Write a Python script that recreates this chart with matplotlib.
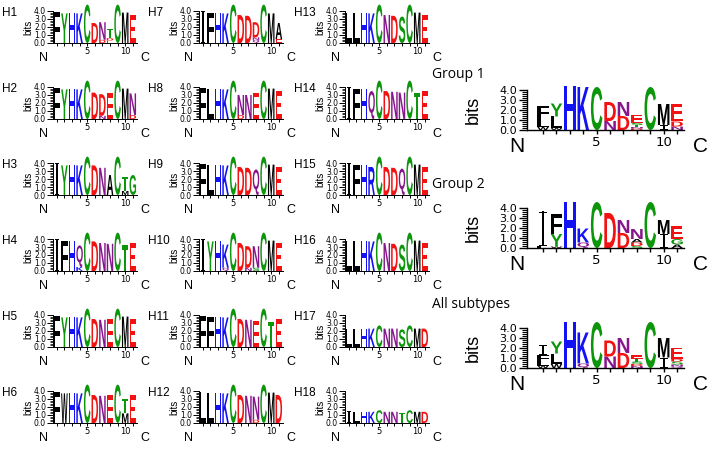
import matplotlib
matplotlib.use('Agg')
import matplotlib.pyplot as plt
from matplotlib.textpath import TextPath
from matplotlib.patches import PathPatch, Rectangle
from matplotlib.font_manager import FontProperties
from matplotlib.transforms import Affine2D

# ---------------- data: stacks bottom -> top, (letter, bits) ----------------
H1 = [[('F', 3.9)], [('Y', 3.7)], [('H', 3.7)], [('K', 3.7)], [('C', 4.8)], [('D', 2.5)],
      [('D', 0.4), ('N', 2.2)], [('E', 0.3), ('D', 0.3), ('T', 1.2)], [('C', 4.8)], [('M', 3.8)], [('E', 3.5)]]
H2 = [[('F', 3.9)], [('Y', 3.7)], [('H', 3.7)], [('K', 3.7)], [('C', 4.8)], [('D', 3.3)],
      [('N', 0.4), ('D', 2.7)], [('E', 3.2)], [('C', 4.8)], [('M', 3.8)], [('D', 0.5), ('N', 2.7)]]
H3 = [[('I', 4.0)], [('Y', 3.7)], [('H', 3.7)], [('K', 3.7)], [('C', 4.8)], [('D', 3.7)],
      [('N', 3.4)], [('A', 2.5)], [('C', 4.8)], [('M', 0.5), ('T', 1.8)], [('G', 2.5)]]
H4 = [[('I', 4.0)], [('F', 3.7)], [('H', 3.7)], [('K', 0.5), ('Q', 2.7)], [('C', 4.8)], [('D', 3.7)],
      [('N', 3.5)], [('N', 3.4)], [('C', 4.8)], [('T', 3.2)], [('E', 3.5)]]
H5 = [[('F', 3.9)], [('Y', 3.7)], [('H', 3.7)], [('K', 3.7)], [('C', 4.8)], [('D', 3.5)],
      [('N', 3.4)], [('E', 3.5)], [('C', 4.8)], [('M', 3.8)], [('E', 3.5)]]
H6 = [[('F', 3.9)], [('W', 3.7)], [('H', 3.7)], [('K', 3.7)], [('C', 4.8)], [('D', 3.5)],
      [('N', 3.4)], [('E', 3.5)], [('C', 4.8)], [('M', 1.2), ('T', 1.8)], [('E', 3.5)]]
H7 = [[('I', 4.0)], [('F', 3.7)], [('H', 3.7)], [('K', 3.7)], [('C', 4.8)], [('D', 3.5)],
      [('D', 3.4)], [('Q', 0.4), ('N', 0.3), ('D', 1.9)], [('C', 4.8)], [('M', 3.7)], [('E', 0.5), ('A', 2.0)]]
H8 = [[('F', 3.9)], [('L', 3.7)], [('H', 3.7)], [('K', 3.7)], [('C', 4.8)], [('D', 0.5), ('N', 2.5)],
      [('N', 3.0)], [('E', 3.3)], [('C', 4.8)], [('M', 3.8)], [('E', 3.5)]]
H9 = [[('F', 3.9)], [('L', 3.7)], [('H', 3.7)], [('K', 3.7)], [('C', 4.8)], [('D', 3.5)],
      [('D', 3.4)], [('Q', 3.2)], [('C', 4.8)], [('M', 3.8)], [('E', 3.5)]]
H10 = [[('I', 4.0)], [('Y', 3.7)], [('H', 3.7)], [('Q', 0.4), ('K', 2.9)], [('C', 4.8)], [('D', 3.5)],
       [('N', 0.4), ('D', 2.7)], [('S', 0.4), ('N', 2.7)], [('C', 4.8)], [('M', 3.8)], [('E', 3.5)]]
H11 = [[('F', 3.9)], [('F', 3.7)], [('H', 3.7)], [('K', 3.7)], [('C', 4.8)], [('D', 3.5)],
       [('N', 3.4)], [('E', 3.3)], [('C', 4.8)], [('T', 3.1)], [('E', 3.5)]]
H12 = [[('L', 3.9)], [('L', 3.7)], [('H', 3.7)], [('K', 3.7)], [('C', 4.8)], [('D', 3.5)],
       [('N', 3.4)], [('D', 0.4), ('N', 2.9)], [('C', 4.8)], [('M', 3.8)], [('D', 3.5)]]
H13 = [[('L', 3.7)], [('L', 3.7)], [('H', 3.7)], [('K', 3.7)], [('C', 4.8)], [('N', 3.5)],
       [('D', 3.4)], [('S', 3.3)], [('C', 4.8)], [('M', 3.8)], [('E', 3.5)]]
H14 = [[('I', 4.0)], [('F', 3.7)], [('H', 3.7)], [('Q', 3.5)], [('C', 4.8)], [('D', 3.5)],
       [('N', 3.4)], [('N', 3.3)], [('C', 4.8)], [('T', 3.3)], [('E', 3.5)]]
H15 = [[('I', 4.0)], [('F', 3.7)], [('H', 3.7)], [('R', 3.5)], [('C', 4.8)], [('D', 3.5)],
       [('D', 3.4)], [('Q', 3.3)], [('C', 4.8)], [('M', 3.8)], [('E', 3.5)]]
H16 = [[('L', 3.7)], [('L', 3.7)], [('H', 3.7)], [('K', 3.7)], [('C', 4.8)], [('N', 3.5)],
       [('D', 3.4)], [('S', 3.3)], [('C', 4.8)], [('M', 3.8)], [('E', 3.5)]]
H17 = [[('L', 2.3)], [('L', 2.3)], [('H', 2.3)], [('K', 2.3)], [('C', 2.7)], [('N', 2.3)],
       [('N', 2.3)], [('S', 2.2)], [('C', 2.7)], [('M', 2.3)], [('D', 2.3)]]
H18 = [[('I', 1.5)], [('L', 1.4)], [('H', 1.4)], [('K', 1.4)], [('C', 1.6)], [('N', 1.4)],
       [('N', 1.4)], [('T', 1.3)], [('C', 1.6)], [('M', 1.4)], [('D', 1.4)]]

GROUP1 = [[('W', 0.3), ('L', 0.8), ('F', 1.3)], [('W', 0.2), ('L', 1.15), ('Y', 1.3)], [('H', 4.4)],
          [('K', 4.3)], [('C', 4.3)], [('N', 0.9), ('D', 1.9)], [('D', 1.4), ('N', 1.4)],
          [('D', 0.15), ('N', 0.15), ('T', 0.2), ('S', 0.2), ('E', 0.8)], [('C', 4.3)],
          [('I', 0.5), ('M', 2.1)], [('N', 0.35), ('D', 0.5), ('E', 1.75)]]
GROUP2 = [[('L', 0.15), ('I', 3.5)], [('W', 0.15), ('Y', 1.25), ('F', 1.95)], [('H', 4.6)],
          [('Q', 0.55), ('K', 1.4)], [('C', 4.6)], [('D', 3.5)], [('D', 1.5), ('N', 1.3)],
          [('S', 0.2), ('D', 0.35), ('A', 0.35), ('N', 1.0)], [('C', 4.6)], [('I', 1.4), ('M', 1.4)],
          [('A', 0.35), ('G', 0.55), ('E', 1.25)]]
ALL = [[('W', 0.25), ('L', 0.35), ('F', 0.7), ('I', 1.05)], [('W', 0.4), ('L', 1.05), ('Y', 1.2)],
       [('H', 4.6)], [('Q', 0.45), ('K', 3.1)], [('C', 4.6)], [('N', 1.15), ('D', 1.6)],
       [('D', 1.5), ('N', 1.5)], [('N', 0.2), ('D', 0.2), ('S', 0.25), ('T', 0.3), ('E', 0.35)],
       [('C', 4.6)], [('I', 1.05), ('M', 1.95)], [('Q', 0.15), ('N', 0.2), ('S', 0.3), ('D', 0.25), ('E', 1.15)]]

small_names = ['H1', 'H2', 'H3', 'H4', 'H5', 'H6', 'H7', 'H8', 'H9', 'H10', 'H11', 'H12',
               'H13', 'H14', 'H15', 'H16', 'H17', 'H18']
small_logos = [H1, H2, H3, H4, H5, H6, H7, H8, H9, H10, H11, H12, H13, H14, H15, H16, H17, H18]
group_names = ['Group 1', 'Group 2', 'All subtypes']
group_logos = [GROUP1, GROUP2, ALL]
ytick_labels = ['0.0', '1.0', '2.0', '3.0', '4.0']

# ---------------- style ----------------
COL = {}
for c in 'AVLIPWFM':
    COL[c] = '#000000'
for c in 'GSTYC':
    COL[c] = '#0c960c'
for c in 'NQ':
    COL[c] = '#86168c'
for c in 'KRH':
    COL[c] = '#1212f2'
for c in 'DE':
    COL[c] = '#f21212'

FP = FontProperties(family='Liberation Sans', weight='bold')
_glyph = {}


def glyph(ch):
    if ch not in _glyph:
        _glyph[ch] = TextPath((0, 0), ch, size=1, prop=FP)
    return _glyph[ch]


def ibeam(ax, xc, y0, y1, sw, cw, capt, color):
    ax.add_patch(Rectangle((xc - sw / 2, y0), sw, y1 - y0, facecolor=color, lw=0))
    ax.add_patch(Rectangle((xc - cw / 2, y0), cw, capt, facecolor=color, lw=0))
    ax.add_patch(Rectangle((xc - cw / 2, y1 - capt), cw, capt, facecolor=color, lw=0))


def draw_letter(ax, ch, xc, y0, h, w, big):
    if ch == 'I':
        capt = min(0.12 if big else 0.15, h * 0.2)
        ibeam(ax, xc, y0, y0 + h, 0.16 if big else 0.2, 0.6, capt, COL[ch])
        return
    p = glyph(ch)
    e = p.get_extents()
    t = (Affine2D().translate(-e.x0, -e.y0)
         .scale(w / e.width, h / e.height).translate(xc - w / 2, y0))
    ax.add_patch(PathPatch(t.transform_path(p), facecolor=COL[ch], edgecolor='none', lw=0))


W, H = 709, 449
fig = plt.figure(figsize=(W / 100, H / 100), dpi=100)


def px_axes(left, top, width, height):
    return fig.add_axes([left / W, 1 - (top + height) / H, width / W, height / H])


def ftext(x, y, s, **kw):
    fig.text(x / W, 1 - y / H, s, **kw)


def draw_logo(ax, logo, xlim, ytop, big):
    for i, stack in enumerate(logo):
        y = 0
        for ch, h in stack:
            draw_letter(ax, ch, i + 1, y, h, 0.86, big)
            y += h
    ax.set_xlim(*xlim)
    ax.set_ylim(0, ytop)
    for s in ['top', 'right']:
        ax.spines[s].set_visible(False)
    ax.spines['left'].set_bounds(0, 4.0)
    lw = 1.0 if big else 0.7
    ax.spines['left'].set_linewidth(lw)
    ax.spines['bottom'].set_linewidth(lw)
    ax.set_yticks([0, 1, 2, 3, 4])
    ax.set_yticklabels(ytick_labels)
    ax.set_yticks([k * 0.2 for k in range(21)], minor=True)
    ax.set_xticks(range(1, len(logo) + 1))
    ax.set_xticklabels(['5' if k == 5 else '10' if k == 10 else '' for k in range(1, len(logo) + 1)])
    fs = 8 if big else 5.5
    ax.tick_params(axis='y', which='major', length=6 if big else 4, width=lw, labelsize=fs, pad=1)
    ax.tick_params(axis='y', which='minor', length=3.5 if big else 2.2, width=lw * 0.8)
    ax.tick_params(axis='x', which='major', length=3 if big else 2, width=lw,
                   labelsize=9.5 if big else 6, pad=1)
    ax.patch.set_alpha(0)


# small panels
col_axis_x = [53, 199, 345]
row_base_y = [43, 119, 195, 271, 347, 423]
pxu = 7.6
sbit = 8.0
for k, (name, logo) in enumerate(zip(small_names, small_logos)):
    c, r = divmod(k, 6)
    ax0 = col_axis_x[c]
    base = row_base_y[r]
    ax = px_axes(ax0, base - 5.0 * sbit, 11.1 * pxu, 5.0 * sbit)
    draw_logo(ax, logo, (0.5, 11.6), 5.0, False)
    ftext(ax0 - 51, base - 30, name, fontsize=8.5, va='center', ha='left', family='Liberation Sans')
    ftext(ax0 - 25, base - 16, 'bits', fontsize=7, va='center', ha='center', rotation=90,
          family='Liberation Sans')
    ftext(ax0 - 10, base + 15, 'N', fontsize=9, va='center', ha='center', family='Liberation Sans')
    ftext(ax0 + 11.1 * pxu + 8, base + 15, 'C', fontsize=9, va='center', ha='center',
          family='Liberation Sans')

# group panels
gx = 527
gpx = 13.4
gbit = 10.0
group_base_y = [130, 248, 368]
group_label_y = [75, 185, 305]
for name, logo, base, ly in zip(group_names, group_logos, group_base_y, group_label_y):
    ax = px_axes(gx, base - 4.7 * gbit, 11.7 * gpx, 4.7 * gbit)
    draw_logo(ax, logo, (-0.2, 11.5), 4.7, True)
    ftext(432, ly, name, fontsize=10, va='center', ha='left', family='Open Sans')
    ftext(473, base - 20, 'bits', fontsize=13, va='center', ha='center', rotation=90,
          family='Liberation Sans')
    ftext(517, base + 17, 'N', fontsize=15, va='center', ha='center', family='Liberation Sans')
    ftext(700, base + 17, 'C', fontsize=15, va='center', ha='center', family='Liberation Sans')

fig.savefig('out.png', dpi=100)
